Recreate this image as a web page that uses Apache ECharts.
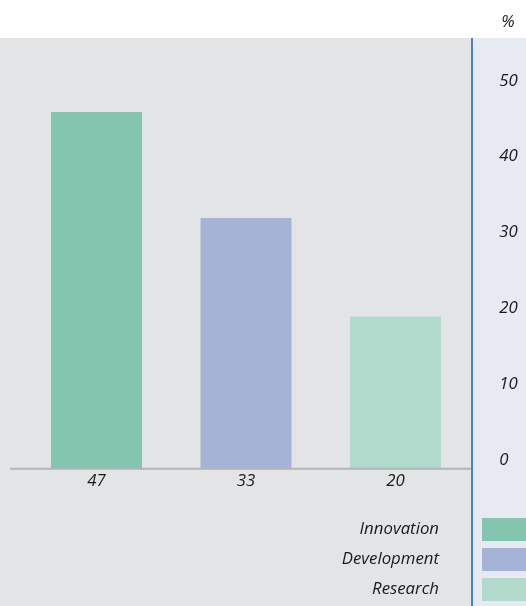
<!DOCTYPE html>
<html>
<head>
<meta charset="utf-8">
<style>
html,body{margin:0;padding:0;background:#fff;}
#c{width:526px;height:606px;}
</style>
<script src="https://cdn.jsdelivr.net/npm/echarts@6/dist/echarts.min.js"></script>
</head>
<body>
<div id="c"></div>
<script>
var categories = ['Innovation', 'Development', 'Research'];
var values = [47, 33, 20];
var xLabels = ['47', '33', '20'];
var yTicks = [0, 10, 20, 30, 40, 50];
var colors = ['#84c5b0', '#a5b3d7', '#b2dacc'];
var unitLabel = '%';

var FONT = '"Open Sans", "Noto Sans", sans-serif';
var FS = 16.8;
var chart = echarts.init(document.getElementById('c'), null, {renderer: 'canvas'});

var series = categories.map(function (name, i) {
  var d = categories.map(function (c, j) { return j === i ? values[i] : '-'; });
  return {
    name: name,
    type: 'bar',
    stack: 'all',
    data: d,
    barWidth: 91,
    itemStyle: {color: colors[i]},
    emphasis: {disabled: true},
    z: 3
  };
});

chart.setOption({
  animation: false,
  grid: {left: 21.75, right: 55.75, top: 89.2, bottom: 138},
  xAxis: {
    type: 'category',
    data: categories,
    axisLine: {show: false},
    axisTick: {show: false},
    axisLabel: {
      margin: 5,
      formatter: function (v, i) { return xLabels[i]; },
      fontFamily: FONT, fontStyle: 'italic', fontSize: FS, color: '#1a1a1a'
    }
  },
  yAxis: {
    type: 'value',
    position: 'right',
    min: yTicks[0],
    max: yTicks[yTicks.length - 1],
    interval: 10,
    splitLine: {show: false},
    axisLine: {show: false},
    axisTick: {show: false},
    axisLabel: {
      margin: 29,
      align: 'left',
      verticalAlign: 'bottom',
      lineHeight: 16.5,
      fontFamily: FONT, fontStyle: 'italic', fontSize: FS, color: '#1a1a1a'
    }
  },
  legend: {
    data: categories,
    orient: 'vertical',
    right: -6,
    top: 518,
    padding: 0,
    align: 'right',
    itemWidth: 50,
    itemHeight: 23,
    itemGap: 7,
    icon: 'rect',
    selectedMode: false,
    textStyle: {
      fontFamily: FONT, fontStyle: 'italic', fontSize: FS, color: '#1a1a1a',
      padding: [0, 38, 0, 0]
    }
  },
  graphic: [
    {type: 'rect', z: -10, silent: true, shape: {x: 0, y: 38, width: 472, height: 568}, style: {fill: '#e3e4e6'}},
    {type: 'rect', z: -10, silent: true, shape: {x: 472, y: 38, width: 54, height: 568}, style: {fill: '#e8eaf3'}},
    {type: 'line', z: 5, silent: true, shape: {x1: 472, y1: 38, x2: 472, y2: 606}, style: {stroke: '#1a62b8', lineWidth: 1.5}},
    {type: 'line', z: 5, silent: true, shape: {x1: 10, y1: 468.8, x2: 471, y2: 468.8}, style: {stroke: '#b4b4b6', lineWidth: 2}},
    {type: 'text', z: 5, silent: true, x: 508, y: 22, style: {text: unitLabel, font: 'italic ' + FS + 'px ' + FONT, fill: '#1a1a1a', align: 'center', verticalAlign: 'middle'}}
  ],
  series: series
});
</script>
</body>
</html>
